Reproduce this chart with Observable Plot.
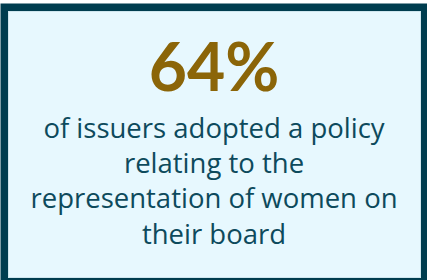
<!DOCTYPE html>
<html>
<head>
<meta charset="utf-8">
<script src="https://cdn.jsdelivr.net/npm/d3@7"></script>
<script src="https://cdn.jsdelivr.net/npm/@observablehq/plot@0.6"></script>
<style>
  html, body { margin: 0; padding: 0; background: #ffffff; }
  svg { display: block; }
</style>
</head>
<body>
<div id="chart"></div>
<script>
// Headline figure
const headline = ["64%"];
const headlineRow = [-1.33];
// Statement lines
const bodyLines = [
  "of issuers adopted a policy",
  "relating to the",
  "representation of women on",
  "their board"
];
const bodyRows = [0, 1, 2, 3];

const headData = headline.map((t, i) => ({text: t, row: headlineRow[i]}));
const bodyData = bodyLines.map((t, i) => ({text: t, row: bodyRows[i]}));

const chart = Plot.plot({
  width: 427,
  height: 280,
  margin: 0,
  x: {axis: null, domain: [0, 1]},
  y: {axis: null, type: "linear", domain: [0, 3], range: [137, 243]},
  marks: [
    Plot.frame({fill: "#003d4f", stroke: "none", insetTop: 3}),
    Plot.frame({fill: "#e7f8fe", stroke: "#cfe6ee", strokeWidth: 1, insetTop: 11, insetLeft: 8, insetRight: 7, insetBottom: 3}),
    Plot.text(headData, {
      x: () => 0.5, y: "row", text: "text",
      lineAnchor: "bottom",
      fontFamily: "Lato", fontWeight: "bold", fontSize: 66,
      fill: "#8b6508"
    }),
    Plot.text(bodyData, {
      x: () => 0.5, y: "row", text: "text",
      lineAnchor: "bottom",
      fontFamily: "Open Sans", fontSize: 27.5,
      fill: "#0d4a5c"
    })
  ]
});
document.getElementById("chart").appendChild(chart);
</script>
</body>
</html>
